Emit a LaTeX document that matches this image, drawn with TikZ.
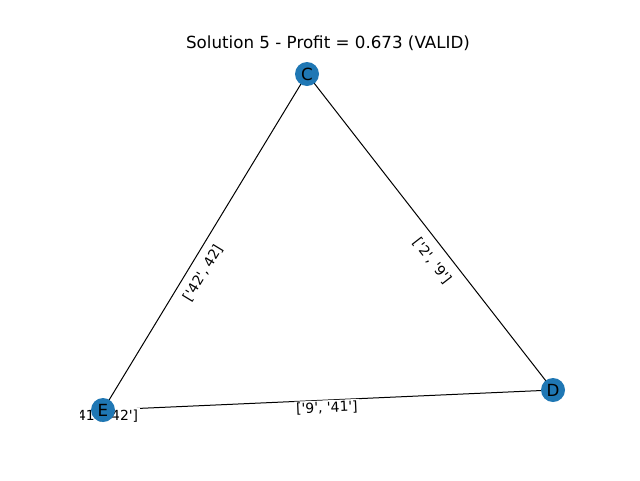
\documentclass[tikz,border=0pt]{standalone}
\usepackage{fontspec}
\setmainfont{DejaVu Sans}
\usetikzlibrary{backgrounds}
\definecolor{nodeblue}{HTML}{1F77B4}
\newcommand{\q}{\textquotesingle}
\tikzset{
  city/.style={circle, fill=nodeblue, minimum size=24pt, inner sep=0pt, font=\fontsize{16.7}{18}\selectfont},
  edgelabel/.style={fill=white, inner sep=1.5pt, font=\fontsize{13.9}{15}\selectfont},
  link/.style={black, line width=1pt}
}
\begin{document}
\begin{tikzpicture}[x=1pt,y=-1pt]
	\useasboundingbox (0,0) rectangle (640,480);
	\node (title) at (328,43) {\fontsize{16.7}{18}\selectfont Solution 5 - Profit = 0.673 (VALID)};
	\begin{scope}
	\clip (80,57.6) rectangle (576,427.2);
	% cities
	\node [city] (c) at (307,74) {C};
	\node [city] (d) at (553,390) {D};
	\node [city] (e) at (103,410) {E};
	\end{scope}
	\begin{scope}[on background layer]
	\clip (80,57.6) rectangle (576,427.2);
	\draw [link] (c.center) -- (e.center);
	\draw [link] (c.center) -- (d.center);
	\draw [link] (e.center) -- (d.center);
	% route labels
	\node [edgelabel, rotate=58.7] (ce) at (203,273) {[\q42\q, 42]};
	\node [edgelabel, rotate=-52.1] (cd) at (432,261) {[\q2\q, \q9\q]};
	\node [edgelabel, rotate=2.5] (ed) at (327,408) {[\q9\q, \q41\q]};
	\node [edgelabel] (ee) at (103,416) {[\q41\q, \q42\q]};
	\end{scope}
\end{tikzpicture}
\end{document}
